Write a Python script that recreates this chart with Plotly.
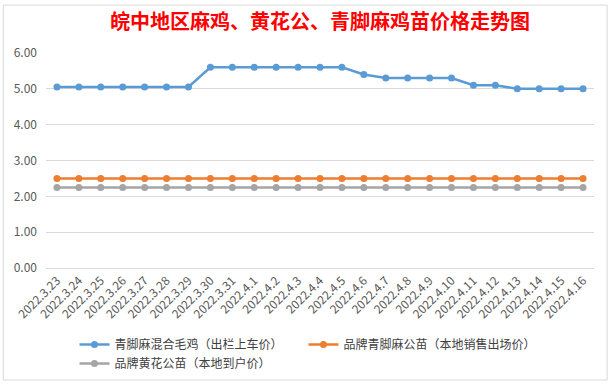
import plotly.graph_objects as go

dates = ["2022.3.23", "2022.3.24", "2022.3.25", "2022.3.26", "2022.3.27", "2022.3.28", "2022.3.29",
         "2022.3.30", "2022.3.31", "2022.4.1", "2022.4.2", "2022.4.3", "2022.4.4", "2022.4.5",
         "2022.4.6", "2022.4.7", "2022.4.8", "2022.4.9", "2022.4.10", "2022.4.11", "2022.4.12",
         "2022.4.13", "2022.4.14", "2022.4.15", "2022.4.16"]
qingjiao_mixed = [5.05, 5.05, 5.05, 5.05, 5.05, 5.05, 5.05,
                  5.6, 5.6, 5.6, 5.6, 5.6, 5.6, 5.6,
                  5.4, 5.3, 5.3, 5.3, 5.3, 5.1, 5.1,
                  5.0, 5.0, 5.0, 5.0]
brand_qingjiao = [2.5] * 25
brand_huanghua = [2.25] * 25

names = ["青脚麻混合毛鸡（出栏上车价）", "品牌青脚麻公苗（本地销售出场价）", "品牌黄花公苗（本地到户价）"]
colors = ["#5b9bd5", "#ed7d31", "#a5a5a5"]

fig = go.Figure()
for name, vals, c in zip(names, [qingjiao_mixed, brand_qingjiao, brand_huanghua], colors):
    fig.add_trace(go.Scatter(x=dates, y=vals, name=name, mode="lines+markers",
                             line=dict(color=c, width=2.5),
                             marker=dict(color=c, size=7)))

fig.update_layout(
    width=612, height=385,
    margin=dict(l=46, r=18, t=53, b=117, autoexpand=False),
    paper_bgcolor="white", plot_bgcolor="white",
    font=dict(family="Noto Sans CJK SC, sans-serif", color="#595959", size=12),
    title=dict(text="<b>皖中地区麻鸡、黄花公、青脚麻鸡苗价格走势图</b>",
               font=dict(family="Noto Sans CJK SC, serif", size=20, color="#ff0000"),
               x=0.5, xanchor="center", xref="paper", y=1 - 22 / 385, yanchor="middle"),
    showlegend=True,
    legend=dict(orientation="h", x=0.052, xanchor="left", yref="container",
                y=1 - 330 / 385, yanchor="top",
                entrywidth=184, font=dict(size=12, color="#404040"),
                itemwidth=30, tracegroupgap=0, bgcolor="rgba(0,0,0,0)"),
    shapes=[dict(type="rect", xref="paper", yref="paper", x0=-0.078, x1=1.024,
                 y0=-0.521, y1=1.223, line=dict(color="#d9d9d9", width=1))],
)
fig.update_xaxes(type="category", tickangle=-45, showgrid=False, showline=True,
                 linecolor="#d9d9d9", ticks="", tickfont=dict(size=12, color="#595959"),
                 range=[-0.5, 24.5], automargin=False)
fig.update_yaxes(range=[0, 6], dtick=1, tickformat=".2f", showgrid=True, gridcolor="#d9d9d9",
                 zeroline=False, showline=False, tickfont=dict(size=12, color="#595959"),
                 ticklabelstandoff=8, automargin=False)

fig.write_html("out.html", config={"displayModeBar": False},
               post_script="document.body.style.margin='0';document.body.style.overflow='hidden';")
